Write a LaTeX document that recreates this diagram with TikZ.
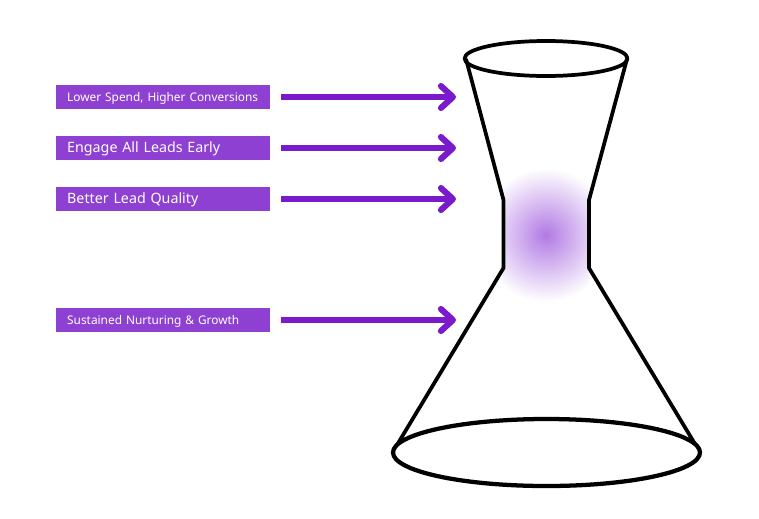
\documentclass[tikz,border=0pt]{standalone}
\usepackage{fontspec}
\setmainfont{Noto Sans}
\usetikzlibrary{arrows.meta}
\definecolor{labelfill}{HTML}{8E40D3}
\definecolor{arrowfill}{HTML}{7A1BCB}
\definecolor{glowfill}{HTML}{B27AE4}
\tikzset{
	labelbox/.style={fill=labelfill, text=white, anchor=west, inner xsep=8.2pt, inner ysep=0pt,
		minimum height=18pt, text width=144pt, text height=8.5pt, text depth=2.5pt, align=left},
	pointer/.style={arrowfill, line width=4.6pt, shorten <=8pt,
		-{Straight Barb[round, length=9pt, width=16.5pt, line width=4.6pt]}},
	funnel/.style={black, line width=2.8pt, line join=round}
}
\begin{document}
\begin{tikzpicture}[x=0.75pt, y=-0.75pt]
	\useasboundingbox (0,0) rectangle (759,518);
	% glow behind the neck
	\begin{scope}
		\clip (503.5,160) rectangle (589,310);
		\shade [inner color=glowfill, outer color=white] (546,235) circle (67);
	\end{scope}
	% funnel
	\draw [funnel] (546,58.5) ellipse (81.5 and 17.5);
	\draw [funnel, line width=3.2pt] (546.5,452.5) ellipse (153.5 and 33.5);
	\draw [funnel] (466,59) -- (503.5,200) -- (503.5,268) -- (397,445);
	\draw [funnel] (627,59) -- (589,200) -- (589,268) -- (695,444);
	% labels and their arrows
	\foreach \y/\name/\txt/\size in {97/spend/Lower Spend{,} Higher Conversions/8.9,
		148/engage/Engage All Leads Early/10.7,
		199/quality/Better Lead Quality/10.7,
		320/nurture/Sustained Nurturing \& Growth/8.9}
	{
		\node [labelbox, font=\fontsize{\size pt}{12pt}\selectfont] (\name) at (56,\y) {\txt};
		\coordinate (\name tip) at (456,\y);
		\draw [pointer] (\name.east) -- (\name tip);
	}
\end{tikzpicture}
\end{document}
